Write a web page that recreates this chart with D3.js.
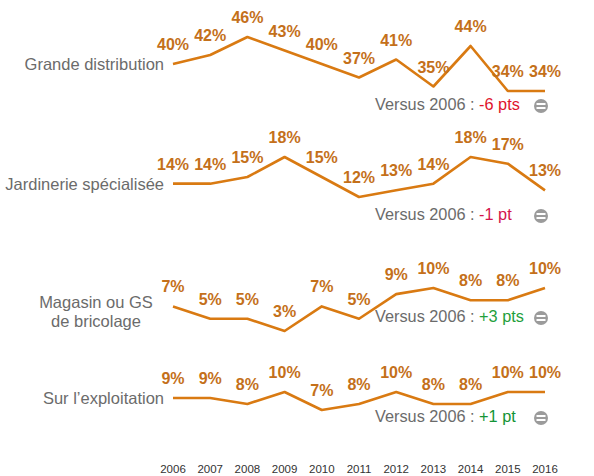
<!DOCTYPE html>
<head>
  <meta charset="utf-8">
  <script src="https://d3js.org/d3.v7.min.js"></script>
  <style>
    body { margin:0; background:#fff; }
    text { font-family: "Liberation Sans", Arial, sans-serif; }
  </style>
</head>
<body>
<svg width="594" height="476"></svg>
<script>

const years = ["2006","2007","2008","2009","2010","2011","2012","2013","2014","2015","2016"]

const categories = ["Grande distribution", "Jardinerie spécialisée", "Magasin ou GS\nde bricolage", "Sur l’exploitation"]

const grande      = [40, 42, 46, 43, 40, 37, 41, 35, 44, 34, 34]
const jardinerie  = [14, 14, 15, 18, 15, 12, 13, 14, 18, 17, 13]
const bricolage   = [7, 5, 5, 3, 7, 5, 9, 10, 8, 8, 10]
const exploitation= [9, 9, 8, 10, 7, 8, 10, 8, 8, 10, 10]

const versus      = ["-6 pts", "-1 pt", "+3 pts", "+1 pt"]

const series = [grande, jardinerie, bricolage, exploitation]

// one small band per row: where min and max of the row sit
const rows = [
  {top: 37,  bottom: 91,  ver: 110},
  {top: 157, bottom: 197, ver: 220},
  {top: 288, bottom: 331, ver: 322},
  {top: 392, bottom: 410, ver: 422},
]
const versusColor = ["#e0142c", "#d4144c", "#1fa03c", "#139436"]

const svg = d3.select("svg")
const x = d3.scalePoint().domain(years).range([173, 545])

const lineCol = "#d97a12", labCol = "#c4701a"

series.forEach(function(vals, i) {
  const r = rows[i]
  const y = d3.scaleLinear().domain(d3.extent(vals)).range([r.bottom, r.top])
  const pts = vals.map((v, j) => ({year: years[j], v: v}))
  const g = svg.append("g")

  g.append("path")
    .datum(pts)
    .attr("fill", "none")
    .attr("stroke", lineCol)
    .attr("stroke-width", 2.6)
    .attr("stroke-linejoin", "round")
    .attr("d", d3.line().x(d => x(d.year)).y(d => y(d.v)))

  g.selectAll(".val")
    .data(pts)
    .enter().append("text")
      .attr("x", d => x(d.year))
      .attr("y", d => y(d.v) - 14)
      .attr("text-anchor", "middle")
      .attr("font-size", 16)
      .attr("font-weight", "bold")
      .attr("fill", labCol)
      .text(d => d.v + "%")

  // category label
  const lines = categories[i].split("\n")
  const y0 = y(vals[0])
  if (lines.length == 1) {
    g.append("text")
      .attr("x", 164).attr("y", y0 + 6)
      .attr("text-anchor", "end")
      .attr("font-size", 16.5)
      .attr("fill", "#6b6b6b")
      .text(lines[0])
  } else {
    lines.forEach(function(t, k) {
      g.append("text")
        .attr("x", 96).attr("y", y0 + 2 + k * 19)
        .attr("text-anchor", "middle")
        .attr("font-size", 16.5)
        .attr("fill", "#6b6b6b")
        .text(t)
    })
  }

  // versus 2006
  const vt = g.append("text")
    .attr("x", 375).attr("y", r.ver)
    .attr("font-size", 16.3)
    .attr("fill", "#6b6b6b")
  vt.append("tspan").text("Versus 2006 : ")
  vt.append("tspan").attr("fill", versusColor[i]).text(versus[i])

  g.append("circle")
    .attr("cx", 541).attr("cy", r.ver - 4)
    .attr("r", 7)
    .attr("fill", "#9b9b9b")
  g.append("rect").attr("x", 536.5).attr("y", r.ver - 7).attr("width", 9).attr("height", 2).attr("fill", "#fff")
  g.append("rect").attr("x", 536.5).attr("y", r.ver - 3).attr("width", 9).attr("height", 2).attr("fill", "#fff")
})

svg.append("g")
  .selectAll("text")
  .data(years)
  .enter().append("text")
    .attr("x", d => x(d))
    .attr("y", 473)
    .attr("text-anchor", "middle")
    .attr("font-size", 11.5)
    .attr("fill", "#333")
    .text(d => d)

</script>
</body>
